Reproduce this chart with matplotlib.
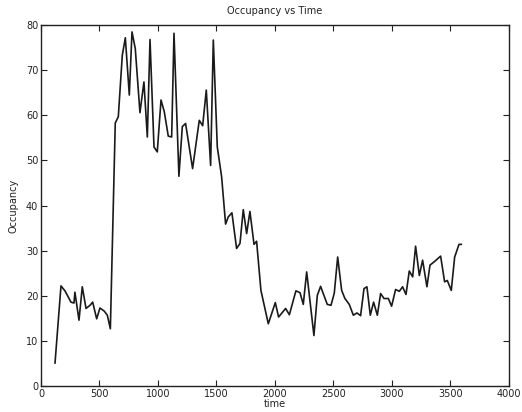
import matplotlib
matplotlib.use("Agg")
import matplotlib.pyplot as plt

# Occupancy trace
time = [120, 171, 205, 234, 256, 282, 290, 325, 353, 385, 419, 442, 476, 504,
        541, 567, 593, 635, 661, 695, 721, 755, 778, 806, 846, 880, 909, 932,
        966, 994, 1026, 1054, 1088, 1117, 1137, 1179, 1208, 1236, 1296, 1353,
        1382, 1413, 1450, 1473, 1507, 1544, 1578, 1601, 1632, 1672, 1701, 1729,
        1758, 1786, 1821, 1843, 1880, 1943, 2003, 2031, 2091, 2123, 2179, 2214,
        2242, 2271, 2333, 2362, 2390, 2447, 2479, 2507, 2536, 2570, 2598, 2635,
        2670, 2701, 2732, 2761, 2786, 2815, 2843, 2875, 2903, 2932, 2969, 2997,
        3031, 3063, 3091, 3120, 3148, 3177, 3202, 3234, 3262, 3299, 3325, 3359,
        3416, 3450, 3473, 3507, 3536, 3573, 3593]
occupancy = [5.1, 22.2, 21.1, 19.7, 18.6, 18.4, 20.8, 14.6, 22.0, 17.2, 17.9,
             18.6, 14.9, 17.3, 16.6, 15.7, 12.7, 58.3, 59.7, 73.3, 77.2, 64.5,
             78.5, 74.8, 60.6, 67.4, 55.2, 76.8, 53.0, 51.9, 63.4, 60.8, 55.4,
             55.2, 78.2, 46.5, 57.5, 58.2, 48.2, 58.9, 57.7, 65.6, 48.9, 76.7,
             53.0, 46.4, 35.9, 37.5, 38.4, 30.5, 31.6, 39.1, 33.8, 38.7, 31.4,
             32.1, 21.2, 13.8, 18.5, 15.3, 17.2, 15.8, 21.1, 20.7, 18.1, 25.3,
             11.2, 20.1, 22.1, 18.1, 17.9, 20.6, 28.6, 21.2, 19.4, 18.1, 15.7,
             16.2, 15.6, 21.6, 22.0, 15.7, 18.6, 15.7, 20.5, 19.4, 19.4, 17.7,
             21.4, 21.0, 22.0, 20.3, 25.5, 24.2, 31.0, 24.5, 27.9, 22.0, 26.8,
             27.5, 28.8, 23.1, 23.4, 21.2, 28.6, 31.4, 31.4]

x_ticks = [0, 500, 1000, 1500, 2000, 2500, 3000, 3500, 4000]
y_ticks = [0, 10, 20, 30, 40, 50, 60, 70, 80]

plt.rcParams.update({
    "font.family": "DejaVu Sans",
    "font.size": 7,
})

fig = plt.figure(figsize=(5.22, 4.12), dpi=100)
ax = fig.add_axes([0.0785, 0.063, 0.8965, 0.876])

ax.plot(time, occupancy, color="#1a1a1a", linewidth=1.2)

ax.set_xlim(0, 4000)
ax.set_ylim(0, 80)
ax.set_xticks(x_ticks)
ax.set_yticks(y_ticks)
ax.tick_params(direction="in", length=4, width=0.8, top=True, right=True,
               labelsize=7, pad=2, colors="#222222")
for spine in ax.spines.values():
    spine.set_linewidth(1.0)
    spine.set_color("#222222")

ax.set_title("Occupancy vs Time", fontsize=7, pad=8, color="#222222")
ax.set_xlabel("time", fontsize=7, labelpad=0, color="#222222")
ax.set_ylabel("Occupancy", fontsize=7, labelpad=5, color="#222222")

fig.savefig("out.png", dpi=100, facecolor="white")
